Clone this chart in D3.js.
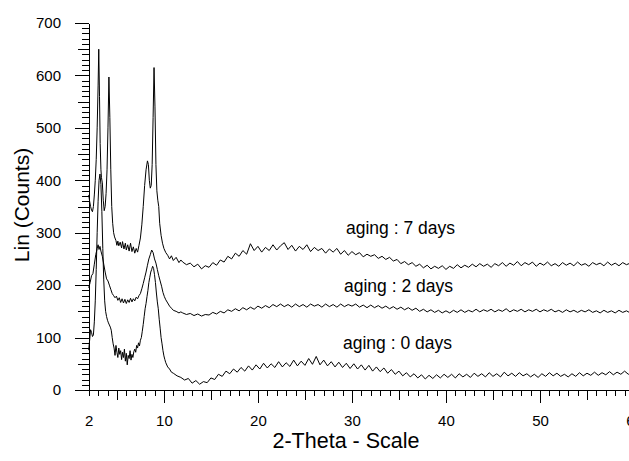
<!DOCTYPE html>
<html>
  <head>
    <meta charset="utf-8">
    <title>XRD patterns</title>
    <script src="https://d3js.org/d3.v7.min.js"></script>
    <style>
      body { margin: 0; background: #fff; }
      .chart { font-family: "Liberation Sans", Arial, sans-serif; }
      .axis path, .axis line { stroke: #000; shape-rendering: crispEdges; }
      .axis text { font-size: 15px; fill: #000; font-family: "Liberation Sans", Arial, sans-serif; }
      .trace { fill: none; stroke: #000; stroke-width: 1; }
    </style>
  </head>
  <body>
    <svg class="chart" width="629" height="461"></svg>
    <script>
      // pattern values: [2-theta, counts]
      const days7 = [
        [2.0,372],[2.1,360],[2.2,350],[2.3,343],[2.4,340],[2.5,350],[2.6,372],[2.7,400],[2.8,440],[2.9,500],
        [3.0,580],[3.07,650],[3.15,560],[3.22,470],[3.3,420],[3.36,405],[3.45,395],[3.55,362],[3.65,342],[3.75,350],
        [3.85,375],[3.95,420],[4.05,500],[4.15,597],[4.25,520],[4.35,420],[4.45,350],[4.55,318],[4.65,300],[4.75,292],
        [4.9,285],[5.0,276],[5.1,284],[5.2,275],[5.35,282],[5.5,271],[5.6,283],[5.75,269],[5.9,280],[6.0,267],
        [6.15,277],[6.3,265],[6.45,280],[6.6,264],[6.75,273],[6.9,261],[7.05,270],[7.2,263],[7.35,276],[7.5,290],
        [7.65,315],[7.8,350],[7.95,390],[8.1,420],[8.25,437],[8.35,430],[8.45,400],[8.55,385],[8.65,390],[8.75,430],
        [8.85,520],[8.95,615],[9.05,540],[9.15,430],[9.25,380],[9.35,362],[9.45,350],[9.55,318],[9.7,295],[9.85,280],
        [10.0,270],[10.2,262],[10.4,257],[10.6,250],[10.8,256],[11.0,247],[11.3,253],[11.6,243],[11.8,248],
        [12.0,244],[12.4,239],[12.8,242],[13.2,235],[13.6,240],[14.0,231],[14.4,237],[14.8,234],[15.2,243],[15.6,238],
        [16.0,248],[16.4,244],[16.8,255],[17.2,250],[17.6,261],[18.0,255],[18.4,266],[18.8,259],[19.2,279],[19.6,266],
        [20.0,274],[20.4,263],[20.8,272],[21.2,266],[21.6,277],[22.0,267],[22.4,275],[22.8,281],[23.2,268],[23.6,276],
        [24.0,265],[24.4,274],[24.8,268],[25.2,277],[25.6,264],[26.0,272],[26.4,266],[26.8,270],[27.2,261],[27.6,269],
        [28.0,263],[28.4,270],[28.8,259],[29.2,266],[29.6,257],[30.0,264],[30.4,258],[30.8,262],[31.2,254],[31.6,259],
        [32.0,255],[32.4,258],[32.8,251],[33.2,255],[33.6,249],[34.0,253],[34.4,246],[34.8,249],[35.2,241],[35.6,245],
        [36.0,239],[36.4,243],[36.8,236],[37.2,240],[37.6,233],[38.0,238],[38.4,231],[38.8,236],[39.2,232],[39.6,237],
        [40.0,230],[40.4,236],[40.8,232],[41.2,239],[41.6,233],[42.0,238],[42.4,234],[42.8,240],[43.2,235],[43.6,241],
        [44.0,236],[44.4,240],[44.8,234],[45.2,241],[45.6,237],[46.0,243],[46.4,236],[46.8,242],[47.2,238],[47.6,245],
        [48.0,237],[48.4,243],[48.8,239],[49.2,244],[49.6,236],[50.0,242],[50.4,238],[50.8,244],[51.2,237],[51.6,241],
        [52.0,236],[52.4,243],[52.8,238],[53.2,242],[53.6,237],[54.0,244],[54.4,238],[54.8,241],[55.2,236],[55.6,243],
        [56.0,239],[56.4,242],[56.8,237],[57.2,244],[57.6,238],[58.0,242],[58.4,237],[58.8,243],[59.2,239],[59.6,242],[60.0,238]
      ];
      const days2 = [
        [2.0,195],[2.15,205],[2.3,218],[2.45,222],[2.6,240],[2.75,258],[2.9,270],[3.0,277],[3.1,268],[3.2,274],
        [3.3,265],[3.45,255],[3.6,240],[3.75,225],[3.9,212],[4.05,208],[4.2,200],[4.35,192],[4.5,184],[4.65,180],
        [4.8,176],[4.95,179],[5.1,171],[5.25,176],[5.4,167],[5.55,174],[5.7,166],[5.85,173],[6.0,165],[6.15,172],
        [6.3,167],[6.45,175],[6.6,168],[6.75,174],[6.9,170],[7.05,177],[7.2,174],[7.35,180],[7.5,184],[7.65,193],
        [7.8,203],[7.95,214],[8.1,225],[8.25,238],[8.4,250],[8.55,258],[8.7,267],[8.85,262],[9.0,250],[9.15,242],
        [9.3,230],[9.45,218],[9.6,208],[9.75,198],[9.9,186],[10.05,178],[10.2,172],[10.4,166],[10.6,160],[10.8,156],
        [11.0,152],[11.3,150],[11.6,147],[11.8,149],
        [12.0,147],[12.4,144],[12.8,146],[13.2,142],[13.6,145],[14.0,141],[14.4,144],[14.8,143],[15.2,148],[15.6,145],
        [16.0,150],[16.4,147],[16.8,153],[17.2,150],[17.6,155],[18.0,151],[18.4,157],[18.8,153],[19.2,158],[19.6,154],
        [20.0,160],[20.4,156],[20.8,161],[21.2,157],[21.6,163],[22.0,159],[22.4,164],[22.8,159],[23.2,163],[23.6,158],
        [24.0,164],[24.4,159],[24.8,163],[25.2,158],[25.6,164],[26.0,160],[26.4,163],[26.8,158],[27.2,164],[27.6,159],
        [28.0,163],[28.4,158],[28.8,164],[29.2,159],[29.6,163],[30.0,160],[30.4,164],[30.8,158],[31.2,162],[31.6,157],
        [32.0,162],[32.4,157],[32.8,161],[33.2,156],[33.6,160],[34.0,155],[34.4,159],[34.8,154],[35.2,158],[35.6,153],
        [36.0,157],[36.4,152],[36.8,156],[37.2,150],[37.6,154],[38.0,149],[38.4,153],[38.8,148],[39.2,152],[39.6,147],
        [40.0,151],[40.4,147],[40.8,152],[41.2,148],[41.6,153],[42.0,148],[42.4,152],[42.8,149],[43.2,154],[43.6,149],
        [44.0,153],[44.4,150],[44.8,154],[45.2,149],[45.6,153],[46.0,150],[46.4,155],[46.8,149],[47.2,153],[47.6,150],
        [48.0,154],[48.4,149],[48.8,153],[49.2,150],[49.6,154],[50.0,149],[50.4,153],[50.8,150],[51.2,154],[51.6,149],
        [52.0,152],[52.4,148],[52.8,153],[53.2,149],[53.6,152],[54.0,148],[54.4,152],[54.8,149],[55.2,153],[55.6,148],
        [56.0,151],[56.4,147],[56.8,152],[57.2,148],[57.6,151],[58.0,147],[58.4,152],[58.8,148],[59.2,151],[59.6,147],[60.0,150]
      ];
      const days0 = [
        [2.0,76],[2.1,95],[2.2,115],[2.3,110],[2.4,102],[2.5,105],[2.6,130],[2.7,170],[2.8,230],[2.9,300],
        [3.0,360],[3.1,400],[3.2,412],[3.3,392],[3.4,340],[3.5,270],[3.6,210],[3.7,170],[3.8,150],[3.9,140],
        [4.0,133],[4.1,128],[4.2,124],[4.3,120],[4.4,114],[4.5,100],[4.6,88],[4.7,80],[4.8,66],[4.9,85],
        [5.0,72],[5.1,62],[5.2,80],[5.3,68],[5.4,75],[5.5,58],[5.6,72],[5.7,62],[5.8,78],[5.9,55],
        [6.0,70],[6.1,48],[6.2,66],[6.3,60],[6.4,75],[6.5,57],[6.6,68],[6.7,62],[6.8,73],[6.9,78],
        [7.0,72],[7.1,85],[7.2,80],[7.3,90],[7.4,84],[7.5,95],[7.6,100],[7.7,112],[7.8,125],[7.9,140],
        [8.0,155],[8.1,165],[8.2,178],[8.3,190],[8.4,205],[8.5,215],[8.6,225],[8.7,230],[8.8,236],[8.9,232],
        [9.0,220],[9.1,205],[9.2,185],[9.3,168],[9.4,155],[9.5,135],[9.6,118],[9.7,100],[9.8,88],[9.9,75],
        [10.0,65],[10.1,58],[10.2,52],[10.4,44],[10.6,40],[10.8,34],
        [11.0,32],[11.4,27],[11.8,24],[12.2,19],[12.6,22],[13.0,13],[13.4,18],[13.8,11],[14.2,16],[14.6,14],
        [15.0,23],[15.4,20],[15.8,30],[16.2,26],[16.6,36],[17.0,31],[17.4,40],[17.8,34],[18.2,43],[18.6,36],
        [19.0,46],[19.4,38],[19.8,48],[20.2,40],[20.6,51],[21.0,42],[21.4,50],[21.8,43],[22.2,54],[22.6,44],
        [23.0,52],[23.4,45],[23.8,57],[24.2,46],[24.6,55],[25.0,47],[25.4,60],[25.8,49],[26.2,64],[26.6,48],
        [27.0,57],[27.4,46],[27.8,54],[28.2,44],[28.6,53],[29.0,43],[29.4,51],[29.8,41],[30.2,50],[30.6,40],
        [31.0,48],[31.4,38],[31.8,47],[32.2,36],[32.6,44],[33.0,35],[33.4,42],[33.8,32],[34.2,39],[34.6,30],
        [35.0,36],[35.4,27],[35.8,33],[36.2,25],[36.6,31],[37.0,23],[37.4,29],[37.8,21],[38.2,28],[38.6,22],
        [39.0,29],[39.4,23],[39.8,30],[40.2,24],[40.6,30],[41.0,23],[41.4,31],[41.8,25],[42.2,30],[42.6,24],
        [43.0,32],[43.4,26],[43.8,31],[44.2,25],[44.6,33],[45.0,26],[45.4,31],[45.8,25],[46.2,34],[46.6,27],
        [47.0,32],[47.4,26],[47.8,33],[48.2,27],[48.6,31],[49.0,25],[49.4,30],[49.8,24],[50.2,31],[50.6,26],
        [51.0,33],[51.4,27],[51.8,32],[52.2,26],[52.6,30],[53.0,25],[53.4,31],[53.8,26],[54.2,33],[54.6,27],
        [55.0,32],[55.4,28],[55.8,34],[56.2,28],[56.6,33],[57.0,29],[57.4,35],[57.8,29],[58.2,34],[58.6,30],
        [59.0,36],[59.4,30],[59.8,35]
      ];

      const xLabels = [2, 10, 20, 30, 40, 50, 60];
      const yLabels = [0, 100, 200, 300, 400, 500, 600, 700];
      const seriesNames = ["aging : 7 days", "aging : 2 days", "aging : 0 days"];

      const svg = d3.select(".chart");

      const x = d3.scaleLinear().domain([2, 60]).range([88.7, 634]);
      const y = d3.scaleLinear().domain([0, 700]).range([390, 23]);

      // x axis: minor ticks each degree, medium on fives, long on tens
      svg.append("g").attr("class", "axis").attr("transform", "translate(0,390)")
        .call(d3.axisBottom(x).tickValues(d3.range(2, 61)).tickSize(6).tickSizeOuter(0).tickFormat(""));
      svg.append("g").attr("class", "axis").attr("transform", "translate(0,390)")
        .call(d3.axisBottom(x).tickValues([5, 15, 25, 35, 45, 55]).tickSize(10).tickSizeOuter(0).tickFormat(""))
        .call(g => g.select(".domain").remove());
      svg.append("g").attr("class", "axis").attr("transform", "translate(0,390)")
        .call(d3.axisBottom(x).tickValues([10, 20, 30, 40, 50, 60]).tickSize(13).tickFormat(""))
        .call(g => g.select(".domain").remove());
      svg.append("g").attr("class", "axis").attr("transform", "translate(0,390)")
        .call(d3.axisBottom(x).tickValues(xLabels).tickSize(0).tickPadding(25))
        .call(g => g.select(".domain").remove());

      // y axis
      svg.append("g").attr("class", "axis").attr("transform", "translate(89,0)")
        .call(d3.axisLeft(y).tickValues(d3.range(0, 701, 10)).tickSize(7).tickSizeOuter(0).tickFormat(""));
      svg.append("g").attr("class", "axis").attr("transform", "translate(89,0)")
        .call(d3.axisLeft(y).tickValues(d3.range(50, 700, 100)).tickSize(11).tickFormat(""))
        .call(g => g.select(".domain").remove());
      svg.append("g").attr("class", "axis").attr("transform", "translate(89,0)")
        .call(d3.axisLeft(y).tickValues(yLabels).tickSize(14).tickPadding(14))
        .call(g => g.select(".domain").remove());

      // x axis line continues left of the y axis
      svg.append("line").attr("x1", 75).attr("x2", 629).attr("y1", 390).attr("y2", 390)
        .attr("stroke", "#000").attr("shape-rendering", "crispEdges");

      const line = d3.line().x(d => x(d[0])).y(d => y(d[1]));

      [days0, days2, days7].forEach(s => {
        svg.append("path").datum(s).attr("class", "trace").attr("d", line);
      });

      // curve labels
      const labelPos = [[346, 234], [344, 292], [343, 349]];
      svg.selectAll(".lab").data(seriesNames).enter().append("text")
        .attr("x", (d, i) => labelPos[i][0])
        .attr("y", (d, i) => labelPos[i][1])
        .attr("font-size", 17.5)
        .text(d => d);

      svg.append("text").attr("x", 346).attr("y", 448).attr("text-anchor", "middle")
        .attr("font-size", 21.5).text("2-Theta - Scale");
      svg.append("text").attr("transform", "translate(29,205) rotate(-90)").attr("text-anchor", "middle")
        .attr("font-size", 21).text("Lin (Counts)");
    </script>
  </body>
</html>
